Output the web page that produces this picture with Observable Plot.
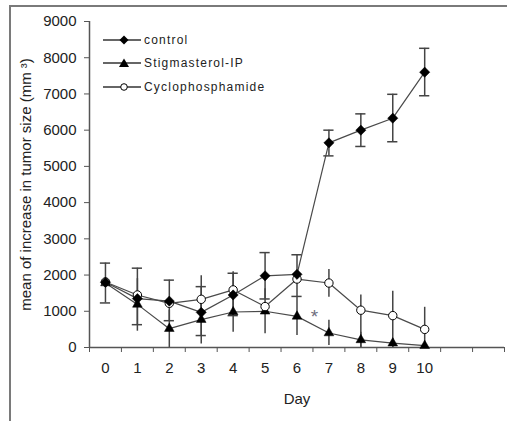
<!DOCTYPE html>
<html>
<head>
<meta charset="utf-8">
<script src="https://cdn.jsdelivr.net/npm/d3@7"></script>
<script src="https://cdn.jsdelivr.net/npm/@observablehq/plot@0.6"></script>
<style>
  body { margin: 0; background: #fff; }
  #wrap { position: relative; width: 507px; height: 421px; overflow: hidden; font-family: "Liberation Sans", Arial, sans-serif; }
  #frame { position: absolute; left: 9px; top: 5px; right: -10px; bottom: -10px; border-left: 2px solid #7a7a7a; border-top: 2px solid #7a7a7a; pointer-events: none; }
  #legend { position: absolute; left: 103px; top: 28px; font-size: 12px; letter-spacing: 1.2px; color: #222; }
  #legend .row { display: flex; align-items: center; height: 23.5px; }
  #legend svg { margin-right: 3px; }
  #chart { position: absolute; left: 0; top: 0; }
</style>
</head>
<body>
<div id="wrap">
  <div id="chart"></div>
  <div id="frame"></div>
  <div id="legend"></div>
</div>
<script>
// ---- data ----
const days = [0, 1, 2, 3, 4, 5, 6, 7, 8, 9, 10];
const seriesNames = ["control", "Stigmasterol-IP", "Cyclophosphamide"];
const control      = [1800, 1350, 1280, 970, 1450, 1980, 2020, 5650, 6000, 6330, 7600];
const stigmasterol = [1780, 1190, 520, 770, 980, 1000, 860, 400, 210, 120, 50];
const cyclo        = [1810, 1450, 1220, 1330, 1590, 1130, 1890, 1780, 1030, 880, 500];
// error bar ranges (low / high); null = not shown
const controlLow  = [1230, 630, 740, 330, 880, 1340, 1410, 5290, 5550, 5680, 6950];
const controlHigh = [2330, 2190, 1860, 1680, 2050, 2620, 2560, 6000, 6450, 6990, 8260];
const stigLow  = [null, 450, 0, 100, 420, 380, 330, 55, 0, 0, 0];
const stigHigh = [null, 1900, 1030, 1440, 1530, 1620, 1380, 750, 420, 240, 100];
const cycLow  = [null, null, null, 1100, 1300, null, null, 1390, 0, 0, 0];
const cycHigh = [null, null, null, 1980, 2090, null, null, 2150, 1450, 1550, 1110];
const yTicks = [0, 1000, 2000, 3000, 4000, 5000, 6000, 7000, 8000, 9000];
const xBounds = [-0.5, 0.5, 1.5, 2.5, 3.5, 4.5, 5.5, 6.5, 7.5, 8.5, 9.5, 10.5, 11.5, 12.5];
const star = [{day: 6.55, value: 850, text: "*"}];
const yLabel = "mean of increase in tumor size (mm \u00B3)";
const xLabel = "Day";

// ---- build tables ----
const rows = (vals, lo, hi, name) => days.map((d, i) => ({day: d, value: vals[i], lo: lo[i], hi: hi[i], series: name}));
const cData = rows(control, controlLow, controlHigh, seriesNames[0]);
const sData = rows(stigmasterol, stigLow, stigHigh, seriesNames[1]);
const yData = rows(cyclo, cycLow, cycHigh, seriesNames[2]);
const withErr = arr => arr.filter(d => d.lo != null);
const capHalf = 0.16;

const lineStroke = "#4a4a4a";
const errStroke = "#444";

const plot = Plot.plot({
  width: 507, height: 421,
  marginLeft: 89, marginRight: 3, marginTop: 21, marginBottom: 74,
  x: {domain: [-0.5, 12.5]},
  y: {domain: [0, 9000]},
  style: {fontFamily: "'Liberation Sans', Arial, sans-serif", background: "transparent", color: "#222"},
  marks: [
    // error bars
    Plot.ruleX(withErr(cData), {x: "day", y1: "lo", y2: "hi", stroke: errStroke, strokeWidth: 1.5}),
    Plot.ruleY(withErr(cData), {y: "hi", x1: d => d.day - capHalf, x2: d => d.day + capHalf, stroke: errStroke, strokeWidth: 1.5}),
    Plot.ruleY(withErr(cData), {y: "lo", x1: d => d.day - capHalf, x2: d => d.day + capHalf, stroke: errStroke, strokeWidth: 1.5}),
    Plot.ruleX(withErr(sData), {x: "day", y1: "lo", y2: "hi", stroke: errStroke, strokeWidth: 1.5}),
    Plot.ruleX(withErr(yData), {x: "day", y1: "lo", y2: "hi", stroke: errStroke, strokeWidth: 1.5}),
    // lines
    Plot.line(cData, {x: "day", y: "value", stroke: lineStroke, strokeWidth: 1.2}),
    Plot.line(sData, {x: "day", y: "value", stroke: lineStroke, strokeWidth: 1.2}),
    Plot.line(yData, {x: "day", y: "value", stroke: lineStroke, strokeWidth: 1.2}),
    // axes lines
    Plot.ruleY([0], {stroke: "#555", strokeWidth: 1.5}),
    Plot.ruleX([-0.5], {stroke: "#555", strokeWidth: 1.5}),
    // markers
    Plot.dot(sData, {x: "day", y: "value", symbol: "triangle", r: 3.6, fill: "#000", stroke: "#000", strokeWidth: 0.5}),
    Plot.dot(yData, {x: "day", y: "value", symbol: "circle", r: 4.2, fill: "#fff", stroke: "#000", strokeWidth: 1}),
    Plot.dot(cData, {x: "day", y: "value", symbol: "diamond2", r: 4.6, fill: "#000", stroke: "#000", strokeWidth: 0.5}),
    Plot.text(star, {x: "day", y: "value", text: "text", fontSize: 19, fill: "#6d6d7d"}),
    // axes
    Plot.axisY({ticks: yTicks, tickSize: 5, tickPadding: 8, fontSize: 15, stroke: "#555", tickFormat: d => String(d),
      label: yLabel, labelAnchor: "center", labelArrow: "none", labelOffset: 69}),
    Plot.axisX({ticks: xBounds, tickSize: 5, tickFormat: () => "", stroke: "#555", label: null}),
    Plot.axisX({ticks: days, tickSize: 0, tickPadding: 15, fontSize: 15, tickFormat: d => String(d),
      label: xLabel, labelAnchor: "center", labelArrow: "none", labelOffset: 56})
  ]
});
document.getElementById("chart").appendChild(plot);

// ---- legend ----
const sym = {
  "control": '<path d="M21,1.5 L25.5,6 L21,10.5 L16.5,6 Z" fill="#000"/>',
  "Stigmasterol-IP": '<path d="M21,1.5 L26,10 L16,10 Z" fill="#000"/>',
  "Cyclophosphamide": '<circle cx="21" cy="6" r="3.3" fill="#fff" stroke="#000" stroke-width="1"/>'
};
const leg = document.getElementById("legend");
for (const name of seriesNames) {
  const row = document.createElement("div");
  row.className = "row";
  row.innerHTML = `<svg width="38" height="12"><line x1="0" x2="38" y1="6" y2="6" stroke="#333" stroke-width="1.3"/>${sym[name]}</svg><span>${name}</span>`;
  leg.appendChild(row);
}
</script>
</body>
</html>
